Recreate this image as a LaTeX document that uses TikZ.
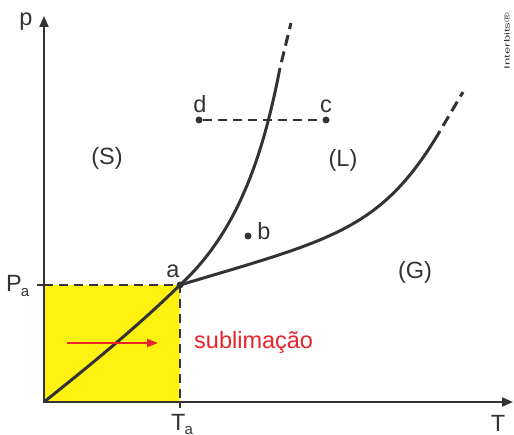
\documentclass[tikz,border=0pt]{standalone}
\usepackage{fontspec}
\setmainfont{Liberation Sans}
\usetikzlibrary{arrows.meta}
\definecolor{ink}{HTML}{333333}
\definecolor{yel}{HTML}{FFF212}
\definecolor{redc}{HTML}{E8232A}
\tikzset{
  axisline/.style={draw=ink, line width=2pt, {Triangle[length=11pt,width=9pt]}-{Triangle[length=11pt,width=9pt]}},
  curveline/.style={draw=ink, line width=3pt},
  extline/.style={draw=ink, line width=3pt, dash pattern=on 11pt off 6pt, dash phase=11pt},
  guideline/.style={draw=ink, line width=2pt, dash pattern=on 9pt off 6pt},
  tickline/.style={draw=ink, line width=2pt},
  lbl/.style={font=\fontsize{23.5}{23.5}\selectfont, text=ink, inner sep=0pt},
  dotnode/.style={circle, fill=ink, inner sep=0pt, minimum size=7pt},
  redarrow/.style={draw=redc, line width=2pt, -{Triangle[length=11pt,width=8pt]}},
}
\begin{document}
\begin{tikzpicture}[x=1pt,y=-1pt]
\useasboundingbox (0,0) rectangle (514,435);
% key points
\coordinate (O) at (44,402);
\coordinate (ytip) at (44,16);
\coordinate (xtip) at (513,402);
\coordinate (a) at (180,285);
\coordinate (PaL) at (44,285);
\coordinate (PaT) at (37,285);
\coordinate (TaB) at (180,402);
\coordinate (TaT) at (180,408);
\coordinate (f1) at (280,68);
\coordinate (f2) at (291,23);
\coordinate (v1) at (440,131);
\coordinate (v2) at (463,92);
\coordinate (r1) at (67,343);
\coordinate (r2) at (158,343);
% yellow region
\fill[yel] (O) rectangle (a);
\draw[guideline] (PaL) -- (a) -- (TaB);
\draw[tickline] (PaT) -- (PaL);
\draw[tickline] (TaB) -- (TaT);
% axes
\draw[axisline] (ytip) -- (O) -- (xtip);
% curves
\draw[curveline] (O) .. controls (89,366) and (136,328) .. (a);
\draw[curveline] (a) .. controls (240,230) and (264,150) .. (f1);
\draw[extline] (f1) -- (f2);
\draw[curveline] (a) .. controls (330,240) and (381,231) .. (v1);
\draw[extline] (v1) -- (v2);
% points
\node[dotnode] (adot) at (a) {};
\node[dotnode] (bdot) at (248,236) {};
\node[dotnode] (ddot) at (199,120) {};
\node[dotnode] (cdot) at (326,120) {};
\draw[guideline] (ddot) -- (cdot);
% labels
\node[lbl] (pl) at (26,22) {p};
\node[lbl] (Tl) at (498,423) {T};
\node[lbl, anchor=base west] (Pal) at (6,292) {P\kern-1pt\raisebox{-5pt}{\fontsize{15}{15}\selectfont a}};
\node[lbl, anchor=base west] (Tal) at (171,430) {T\kern-1pt\raisebox{-5pt}{\fontsize{15}{15}\selectfont a}};
\node[lbl] (al) at (173,271) {a};
\node[lbl] (bl) at (264,231) {b};
\node[lbl] (dl) at (200,104) {d};
\node[lbl] (cl) at (326,106) {c};
\node[lbl] (Sl) at (107,158) {(S)};
\node[lbl] (Ll) at (343,160) {(L)};
\node[lbl] (Gl) at (415,272) {(G)};
\node[lbl, text=redc, anchor=base west] (subl) at (194,349) {sublimação};
\draw[redarrow] (r1) -- (r2);
\node[rotate=90, text=ink, inner sep=0pt] (ib) at (507,41) {\scalebox{1.75}[1]{\fontsize{7.5}{7.5}\selectfont Interbits®}};
\end{tikzpicture}
\end{document}
